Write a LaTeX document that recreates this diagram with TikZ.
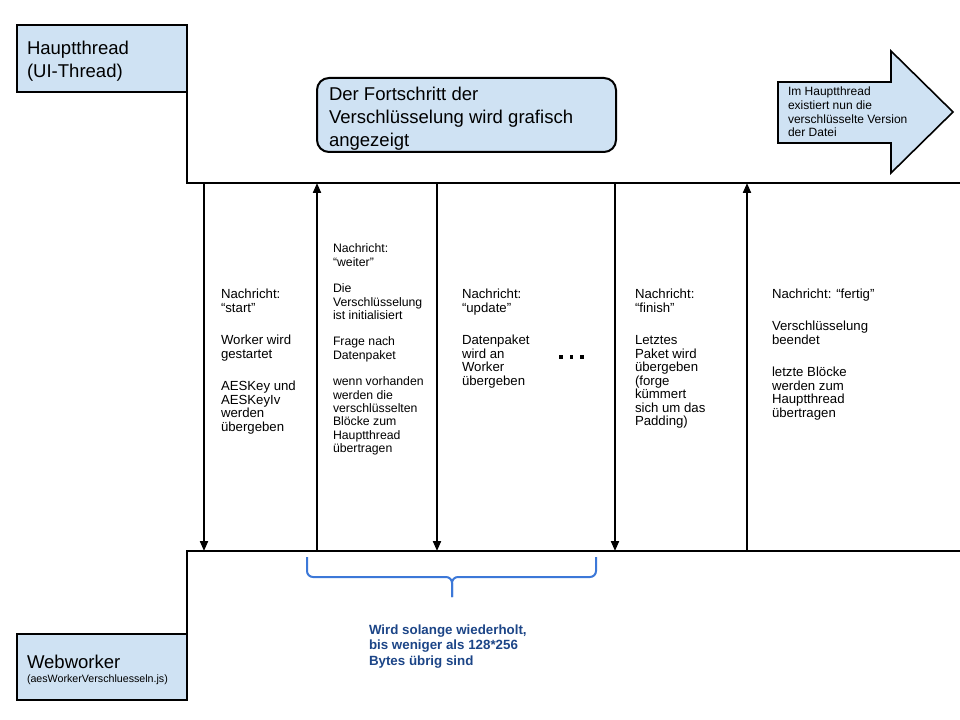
\documentclass[tikz,border=0pt]{standalone}
\usepackage{fontspec}
\setmainfont{Liberation Sans}
\usetikzlibrary{arrows.meta}

\definecolor{boxfill}{HTML}{CFE2F3}
\definecolor{bracecol}{HTML}{3C78D8}
\definecolor{notecol}{HTML}{1C4587}

\begin{document}
% multi-line texts are placed by the baseline of their last line
\begin{tikzpicture}[x=0.75pt,y=-0.75pt,
  threadbox/.style={draw=black, fill=boxfill, line width=1.5pt, inner sep=0pt,
    outer sep=0pt, anchor=north west, minimum width=127.5pt},
  infobox/.style={draw=black, fill=boxfill, line width=1.5pt, inner sep=0pt,
    outer sep=0pt, anchor=north west, rounded corners=9pt,
    minimum width=224.25pt, minimum height=55.5pt},
  timeline/.style={draw=black, line width=1.5pt, line join=miter},
  msg/.style={draw=black, line width=1.5pt, -{Triangle[length=7.5pt,width=6pt]}},
  txt/.style={anchor=base west, inner sep=0pt, outer sep=0pt, align=left, text=black},
  bigtxt/.style={txt, font=\fontsize{13.9pt}{17.4pt}\selectfont},
  msgtxt/.style={txt, font=\fontsize{9.9pt}{10.1pt}\selectfont},
  msgtxtsmall/.style={txt, font=\fontsize{9.2pt}{10pt}\selectfont},
  notetxt/.style={txt, font=\fontsize{9pt}{10.3pt}\selectfont},
  bracestyle/.style={draw=bracecol, line width=1.5pt, rounded corners=4.5pt},
]
\useasboundingbox (0,0) rectangle (960,720);

% thread boxes
\node[threadbox, minimum height=50.25pt] (haupt) at (17,25) {};
\node[bigtxt] (hauptlbl) at (27,78) {Hauptthread\\(UI-Thread)};

\node[threadbox, minimum height=49.5pt] (worker) at (17,634) {};
\node[bigtxt] (workerlbl) at (27,668) {Webworker};
\node[txt, font=\fontsize{8pt}{9.6pt}\selectfont] (workerfile) at (27,682) {(aesWorkerVerschluesseln.js)};

% progress box
\node[infobox] (progress) at (317,78) {};
\node[bigtxt] (progresslbl) at (329,147) {Der Fortschritt der\\Verschlüsselung wird grafisch\\angezeigt};

% result arrow
\draw[line width=1.2pt, fill=boxfill, line join=miter]
  (778,82) -- (891,82) -- (891,51) -- (953,112) -- (891,173) -- (891,143) -- (778,143) -- cycle;
\node[notetxt] (resultlbl) at (788,137) {Im Hauptthread\\existiert nun die\\verschlüsselte Version\\der Datei};

% time lines
\coordinate (tl) at (187,183);
\coordinate (tr) at (960,183);
\coordinate (bl) at (187,551);
\coordinate (br) at (960,551);
\draw[timeline] (haupt.south east) -- (tl) -- (tr);
\draw[timeline] (br) -- (bl) -- (worker.north east);

% messages
\foreach \name/\x in {a/204, b/317, c/437, d/615, e/747} {
  \coordinate (\name top) at (\x,183);
  \coordinate (\name bot) at (\x,551);
}
\draw[msg] (atop) -- (abot);
\draw[msg] (bbot) -- (btop);
\draw[msg] (ctop) -- (cbot);
\draw[msg] (dtop) -- (dbot);
\draw[msg] (ebot) -- (etop);

\node[msgtxt] (msgstart) at (221,431) {Nachricht:\\“start”\\[14.3pt]Worker wird\\gestartet\\[14.3pt]AESKey und\\AESKeyIv\\werden\\übergeben};
\node[msgtxtsmall] (msgweiter) at (333,452.5) {Nachricht:\\“weiter”\\[9.9pt]Die\\Verschlüsselung\\ist initialisiert\\[9.9pt]Frage nach\\Datenpaket\\[9.9pt]wenn vorhanden\\werden die\\verschlüsselten\\Blöcke zum\\Hauptthread\\übertragen};
\node[msgtxt] (msgupdate) at (462,385) {Nachricht:\\“update"\\[14.3pt]Datenpaket\\wird an\\Worker\\übergeben};
\node[msgtxt] (msgfinish) at (635,425.5) {Nachricht:\\“finish”\\[14.3pt]Letztes\\Paket wird\\übergeben\\(forge\\kümmert\\sich um das\\Padding)};
\node[msgtxt] (msgfertig) at (772,417) {Nachricht: “fertig”\\[14.3pt]Verschlüsselung\\beendet\\[14.3pt]letzte Blöcke\\werden zum\\Hauptthread\\übertragen};

% ellipsis between the repeated messages
\foreach \x in {559,569.5,580} {
  \fill[black] (\x,355) rectangle +(3.8,3.8);
}

% repetition brace
\coordinate (brl) at (307,557);
\coordinate (brr) at (596,557);
\coordinate (brtip) at (452,597);
\draw[bracestyle] (brl) -- (307,577) -- (452,577) -- (brtip);
\draw[bracestyle] (brr) -- (596,577) -- (452,577) -- (brtip);
\node[txt, text=notecol, font=\bfseries\fontsize{10pt}{11.6pt}\selectfont] (repeatlbl) at (369,665)
  {Wird solange wiederholt,\\bis weniger als 128*256\\Bytes übrig sind};
\end{tikzpicture}
\end{document}
